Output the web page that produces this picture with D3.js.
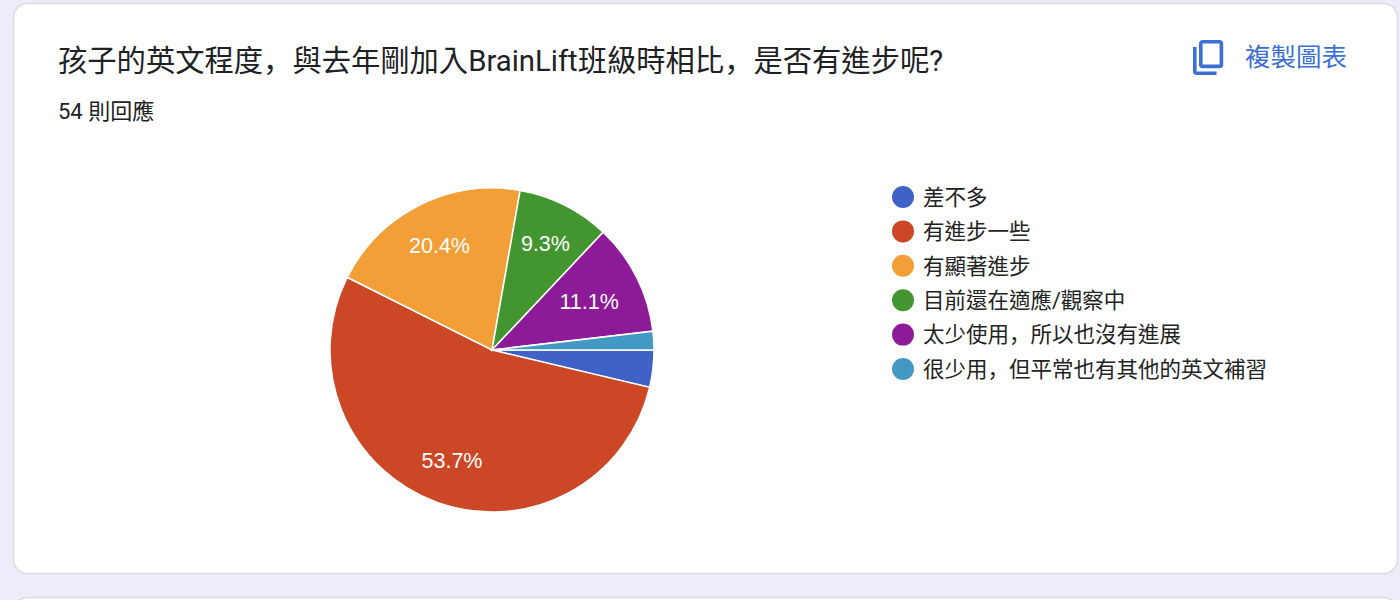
<!DOCTYPE html>
<html><head><meta charset="utf-8">
<script src="https://cdnjs.cloudflare.com/ajax/libs/d3/7.8.5/d3.min.js"></script>
<style>
html,body{margin:0;padding:0;background:#ededfa;overflow:hidden}
svg{display:block}
text{font-family:Roboto,"Noto Sans CJK TC",sans-serif}
</style></head><body>
<svg id="c" width="1400" height="600"></svg>
<script>
const categories=["差不多","有進步一些","有顯著進步","目前還在適應/觀察中","太少使用\uFF0C所以也沒有進展","很少用\uFF0C但平常也有其他的英文補習"];
const counts=[2,29,11,5,6,1];
const colors=["#4062c8","#cc4725","#f29f38","#43962f","#8d1a96","#4199c4"];
const labels=["","53.7%","20.4%","9.3%","11.1%",""];
const labelRadii=[0,117,117,119,108.7,0];
const titleText="孩子的英文程度\uFF0C與去年剛加入BrainLift班級時相比\uFF0C是否有進步呢?";
const subtitleText="54 則回應";
const copyText="複製圖表";

// fullwidth commas sit low-left in the reference, as in the SC font
function fill(sel,str){
  str.split(/(\uFF0C)/).forEach(p=>{
    if(!p) return;
    const t=sel.append("tspan").text(p);
    if(p==="\uFF0C") t.style("font-family",'"Noto Sans CJK SC"');
  });
}

const svg=d3.select("#c");
svg.append("rect").attr("x",13.5).attr("y",3.5).attr("width",1384).attr("height",570).attr("rx",14)
  .attr("fill","#fff").attr("stroke","#dadce0").attr("stroke-width",1.5);
svg.append("rect").attr("x",13.5).attr("y",597.5).attr("width",1384).attr("height",60).attr("rx",14)
  .attr("fill","#fff").attr("stroke","#dadce0").attr("stroke-width",1.5);

fill(svg.append("text").attr("x",58).attr("y",71).attr("font-size",29.3).attr("fill","#202124"),titleText);
fill(svg.append("text").attr("x",58).attr("y",119).attr("font-size",22).attr("fill","#202124"),subtitleText);

// copy icon
const icon=svg.append("g").attr("fill","none").attr("stroke","#3b6fd4").attr("stroke-width",3.6);
icon.append("rect").attr("x",1200.8).attr("y",41.8).attr("width",20.6).attr("height",24.6).attr("rx",2);
icon.append("path").attr("d","M1194.8 47V71.3a2 2 0 0 0 2 2H1216.5");
svg.append("text").attr("x",1245).attr("y",66).attr("font-size",25.5).attr("fill","#3b6fd4").text(copyText);

const cx=492,cy=350,R=162;
const pie=d3.pie().sort(null).startAngle(Math.PI/2).endAngle(Math.PI/2+2*Math.PI).value(d=>d);
const arcs=pie(counts);
const arc=d3.arc().innerRadius(0).outerRadius(R);
const labelArc=d3.arc();
const g=svg.append("g").attr("transform",`translate(${cx},${cy})`);
g.selectAll("path").data(arcs).join("path").attr("d",arc)
  .attr("fill",(d,i)=>colors[i]).attr("stroke","#fff").attr("stroke-width",1.5);
g.selectAll("text").data(arcs).join("text")
  .attr("transform",(d,i)=>`translate(${labelArc.innerRadius(labelRadii[i]).outerRadius(labelRadii[i]).centroid(d)})`)
  .attr("text-anchor","middle").attr("dy","0.36em")
  .attr("fill","#fff").attr("font-size",21.5)
  .style("font-family","'Liberation Sans',Arial,sans-serif")
  .text((d,i)=>labels[i]);

const ly=d3.scalePoint().domain(categories).range([197,369]);
const lg=svg.append("g");
lg.selectAll("circle").data(categories).join("circle")
  .attr("cx",903).attr("cy",d=>ly(d)).attr("r",11).attr("fill",(d,i)=>colors[i]);
lg.selectAll("text").data(categories).join("text")
  .attr("x",923).attr("y",d=>ly(d)).attr("dy","0.36em").attr("font-size",21.5).attr("fill","#222")
  .each(function(d){fill(d3.select(this),d);});
</script>
</body></html>
